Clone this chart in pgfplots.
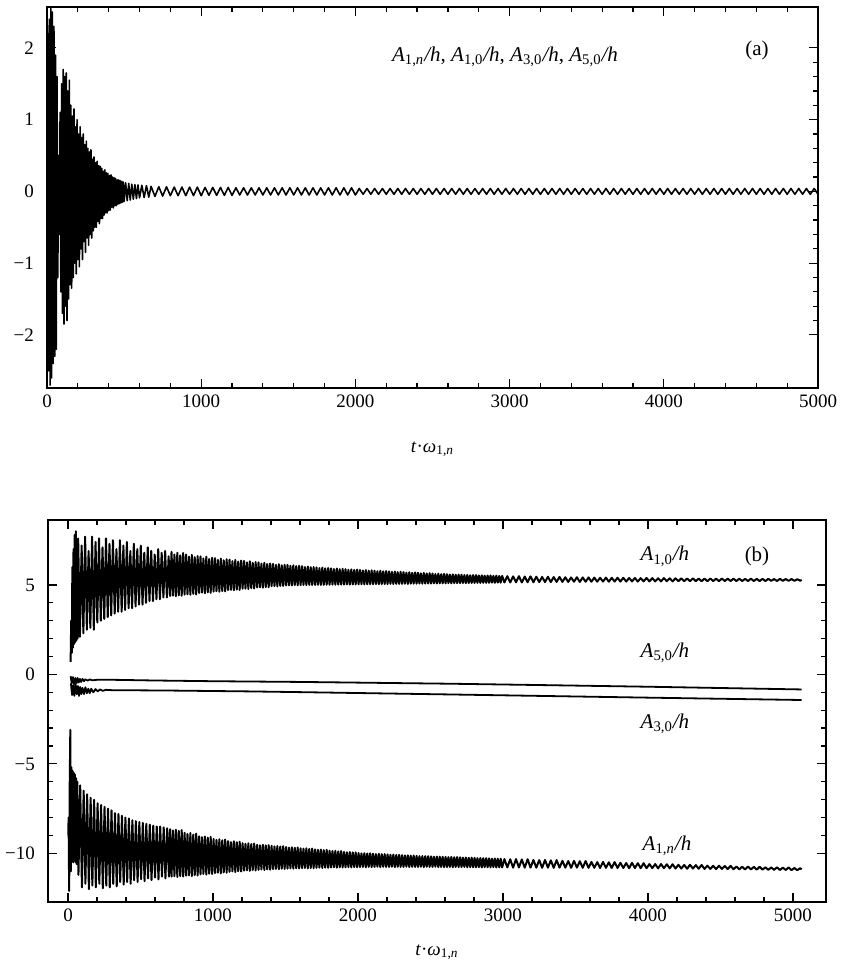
\documentclass[border=0pt]{standalone}
\usepackage{fontspec}
\setmainfont{Liberation Serif}
\usepackage{pgfplots}
\pgfplotsset{compat=1.18}
\newcommand{\Alab}[1]{\textit{A}\textsubscript{#1}\textit{/h}}
\newcommand{\xlab}{\textit{t}·\textit{ω}\textsubscript{1,\textit{n}}}
\pgfplotsset{
  myax/.style={
    scale only axis,
    anchor=north west,
    axis line style={line width=1pt},
    tick align=inside,
    major tick length=4.5pt,
    minor tick length=2.5pt,
    every tick/.style={black,line width=0.6pt},
    minor x tick num=4,
    minor y tick num=4,
    xtick={0,1000,2000,3000,4000,5000},
    xticklabels={0,1000,2000,3000,4000,5000},
    tick label style={font=\fontsize{9.5}{11}\selectfont},
    yticklabel style={xshift=-3pt},
    label style={font=\fontsize{9.5}{11}\selectfont},
    clip=true,
  }
}
\begin{document}
\begin{tikzpicture}
\path[use as bounding box] (0,0) rectangle (423pt,-483.5pt);
% ---------------- panel (a)
\begin{axis}[myax,
  at={(23.5pt,-3.5pt)}, width=385.5pt, height=190.5pt,
  xmin=0, xmax=5000, ymin=-2.74, ymax=2.57,
  ytick={-2,-1,0,1,2}, yticklabels={−2,−1,0,1,2},
  xlabel={\xlab},
  x label style={at={(axis description cs:0.5,0)},anchor=center,yshift=-30.5pt},
]
\addplot[black, line width=0.8pt, line join=round] coordinates {
(0,0.3)(5,2.2)(10,-2.5)(15,2.4)(20,-2.7)(25,2.55)(30,-2.6)(35,2.5)(40,-2.4)(45,2.3)
(50,-2.3)(55,1.9)(60,-2.2)(65,1.6)(70,-1.2)(75,0.5)(80,-0.6)(85,1.1)(90,-1.4)(95,1.5)
(100,-1.7)(105,1.7)(110,-1.85)(115,1.6)(120,-1.6)(125,1.65)(130,-1.8)(135,1.4)(140,-1.5)(145,1.55)
(150,-1.3)(155,1.2)(160,-1.35)(165,1.05)(170,-1.2)(175,1.15)(180,-1.0)(185,0.9)(190,-1.15)(195,1.0)
(200,-0.95)(205,0.8)(210,-1.05)(215,0.9)(220,-0.8)(225,0.75)(230,-0.95)(235,0.8)(240,-0.7)(245,0.65)
(250,-0.85)(255,0.7)(260,-0.65)(265,0.6)(270,-0.75)(275,0.55)(280,-0.6)(285,0.58)(290,-0.65)(295,0.45)
(300,-0.55)(305,0.48)(310,-0.5)(315,0.4)(320,-0.5)(325,0.42)(330,-0.42)(335,0.36)(340,-0.45)(345,0.35)
(350,-0.38)(355,0.32)(360,-0.38)(365,0.28)(370,-0.33)(375,0.3)(380,-0.3)(385,0.26)(390,-0.3)(395,0.25)
(400,-0.27)(405,0.22)(410,-0.26)(415,0.23)(420,-0.22)(425,0.2)(430,-0.23)(435,0.19)(440,-0.2)(445,0.18)
(450,-0.2)(455,0.16)(460,-0.18)(465,0.16)(470,-0.17)(475,0.15)(480,-0.16)(485,0.14)(490,-0.15)(495,0.13)
(500,-0.14)(510,0.12)(520,-0.13)(530,0.11)(540,-0.12)(550,0.1)(560,-0.11)(570,0.095)(580,-0.1)(590,0.09)
(600,-0.09)(615,0.085)(630,-0.085)(645,0.08)(660,-0.08)
(675,0.07)(700,-0.07)(725,0.065)(750,-0.065)(775,0.065)(800,-0.06)(825,0.06)(850,-0.06)(875,0.06)(900,-0.06)
(925,0.06)(950,-0.06)(975,0.06)(1000,-0.06)(1025,0.055)(1050,-0.055)(1075,0.055)(1100,-0.055)(1125,0.055)(1150,-0.055)
(1175,0.055)(1200,-0.055)(1225,0.05)(1250,-0.05)(1275,0.05)(1300,-0.05)(1325,0.05)(1350,-0.05)(1375,0.05)(1400,-0.05)
(1425,0.05)(1450,-0.05)(1475,0.05)(1500,-0.05)(1525,0.05)(1550,-0.05)(1575,0.05)(1600,-0.05)(1625,0.05)(1650,-0.05)
(1675,0.05)(1700,-0.05)(1725,0.05)(1750,-0.05)(1775,0.05)(1800,-0.05)(1825,0.05)(1850,-0.05)(1875,0.05)(1900,-0.05)
(1925,0.05)(1950,-0.05)(1975,0.05)(2000,-0.05)
(2025,0.04)(2050,-0.04)(2075,0.04)(2100,-0.04)(2125,0.04)(2150,-0.04)(2175,0.04)(2200,-0.04)
(2225,0.04)(2250,-0.04)(2275,0.04)(2300,-0.04)(2325,0.04)(2350,-0.04)(2375,0.04)(2400,-0.04)
(2425,0.04)(2450,-0.04)(2475,0.04)(2500,-0.04)(2525,0.04)(2550,-0.04)(2575,0.04)(2600,-0.04)
(2625,0.04)(2650,-0.04)(2675,0.04)(2700,-0.04)(2725,0.04)(2750,-0.04)(2775,0.04)(2800,-0.04)
(2825,0.04)(2850,-0.04)(2875,0.04)(2900,-0.04)(2925,0.04)(2950,-0.04)(2975,0.04)(3000,-0.04)
(3025,0.04)(3050,-0.04)(3075,0.04)(3100,-0.04)(3125,0.04)(3150,-0.04)(3175,0.04)(3200,-0.04)
(3225,0.04)(3250,-0.04)(3275,0.04)(3300,-0.04)(3325,0.04)(3350,-0.04)(3375,0.04)(3400,-0.04)
(3425,0.04)(3450,-0.04)(3475,0.04)(3500,-0.04)(3525,0.04)(3550,-0.04)(3575,0.04)(3600,-0.04)
(3625,0.04)(3650,-0.04)(3675,0.04)(3700,-0.04)(3725,0.04)(3750,-0.04)(3775,0.04)(3800,-0.04)
(3825,0.04)(3850,-0.04)(3875,0.04)(3900,-0.04)(3925,0.04)(3950,-0.04)(3975,0.04)(4000,-0.04)
(4025,0.04)(4050,-0.04)(4075,0.04)(4100,-0.04)(4125,0.04)(4150,-0.04)(4175,0.04)(4200,-0.04)
(4225,0.04)(4250,-0.04)(4275,0.04)(4300,-0.04)(4325,0.04)(4350,-0.04)(4375,0.04)(4400,-0.04)
(4425,0.04)(4450,-0.04)(4475,0.04)(4500,-0.04)(4525,0.04)(4550,-0.04)(4575,0.04)(4600,-0.04)
(4625,0.04)(4650,-0.04)(4675,0.04)(4700,-0.04)(4725,0.04)(4750,-0.04)(4775,0.04)(4800,-0.04)
(4825,0.04)(4850,-0.04)(4875,0.04)(4900,-0.04)(4925,0.04)(4950,-0.04)(4975,0.04)(5000,-0.04)
};
\node[font=\fontsize{10.5}{12}\selectfont] at (axis cs:2970,1.88) {\Alab{1,\textit{n}}, \Alab{1,0}, \Alab{3,0}, \Alab{5,0}};
\node[font=\fontsize{10.5}{12}\selectfont] at (axis cs:4604,1.97) {(a)};
\end{axis}
% ---------------- panel (b)
\begin{axis}[myax,
  at={(24pt,-260pt)}, width=389pt, height=191pt,
  xmin=-138, xmax=5228, ymin=-12.72, ymax=8.63,
  ytick={-10,-5,0,5}, yticklabels={−10,−5,0,5},
  xlabel={\xlab},
  x label style={at={(axis description cs:0.5,0)},anchor=center,yshift=-25pt},
]
% A_{1,0}/h
\addplot[black, line width=1.0pt, line join=round] coordinates {
(18,0.7)(22,3.0)(26,1.2)(30,6.0)(34,1.5)(38,7.0)(42,1.7)(46,7.8)(50,1.8)(54,8.0)(58,1.9)(62,7.4)(66,2.0)
(70,7.6)(82,2.1)(94,7.2)(106,2.3)(118,7.7)(130,2.5)(142,6.9)(154,2.6)(166,7.7)(178,2.5)
(190,7.4)(202,2.9)(214,7.6)(226,3.0)(238,7.1)(250,3.1)(262,7.6)(274,3.2)(286,7.3)(298,3.3)
(310,7.5)(322,3.4)(334,7.0)(346,3.5)(358,7.5)(370,3.5)(382,7.2)(394,3.6)(406,7.4)(418,3.7)
(430,6.9)(442,3.7)(454,7.3)(466,3.8)(478,7.0)(490,3.9)(502,7.2)(514,3.9)(526,6.8)(538,4.0)
(550,7.1)(562,4.1)(574,6.9)(586,4.1)(598,6.7)(610,4.2)(622,7.0)(634,4.2)(646,6.8)(658,4.3)
(670,6.9)(682,4.3)(694,6.6)
(704,4.38)(714,6.85)(724,4.4)(734,6.7)(744,4.37)(754,6.8)(764,4.42)(774,6.65)(784,4.4)(794,6.78)
(804,4.46)(814,6.7)(824,4.48)(834,6.58)(844,4.45)(854,6.68)(864,4.5)(874,6.55)(884,4.47)(894,6.62)
(904,4.55)(914,6.6)(924,4.57)(934,6.48)(944,4.54)(954,6.58)(964,4.59)(974,6.45)(984,4.56)(994,6.52)
(1004,4.63)(1014,6.5)(1024,4.65)(1034,6.4)(1044,4.62)(1054,6.47)(1064,4.66)(1074,6.38)(1084,4.64)(1094,6.44)
(1104,4.71)(1114,6.42)(1124,4.73)(1134,6.33)(1144,4.7)(1154,6.4)(1164,4.74)(1174,6.3)(1184,4.72)(1194,6.36)
(1204,4.79)(1214,6.34)(1224,4.8)(1234,6.26)(1244,4.78)(1254,6.32)(1264,4.82)(1274,6.24)(1284,4.8)(1294,6.28)
(1304,4.86)(1314,6.26)(1324,4.87)(1334,6.19)(1344,4.85)(1354,6.24)(1364,4.88)(1374,6.17)(1384,4.87)(1394,6.2)
(1404,4.93)(1414,6.18)(1424,4.94)(1434,6.12)(1444,4.92)(1454,6.16)(1464,4.95)(1474,6.1)(1484,4.94)(1494,6.13)
(1504,4.97)(1514,6.12)(1524,4.98)(1534,6.07)(1544,4.97)(1554,6.1)(1564,4.99)(1574,6.05)(1584,4.98)(1594,6.07)
(1604,4.99)(1614,6.05)(1624,5.0)(1634,6.0)(1644,4.99)(1654,6.03)(1664,5.0)(1674,5.99)(1684,5.0)(1694,6.0)
(1704,5.0)(1714,5.98)(1724,5.01)(1734,5.94)(1744,5.0)(1754,5.97)(1764,5.01)(1774,5.93)(1784,5.01)(1794,5.95)
(1804,5.01)(1814,5.93)(1824,5.02)(1834,5.89)(1844,5.01)(1854,5.92)(1864,5.02)(1874,5.88)(1884,5.02)(1894,5.9)
(1904,5.02)(1914,5.88)(1924,5.03)(1934,5.85)(1944,5.02)(1954,5.87)(1964,5.03)(1974,5.84)(1984,5.03)(1994,5.86)
(2004,5.03)(2014,5.84)(2024,5.04)(2034,5.81)(2044,5.03)(2054,5.83)(2064,5.04)(2074,5.8)(2084,5.04)(2094,5.82)
(2104,5.04)(2114,5.8)(2124,5.05)(2134,5.77)(2144,5.04)(2154,5.79)(2164,5.05)(2174,5.76)(2184,5.05)(2194,5.78)
(2204,5.05)(2214,5.76)(2224,5.06)(2234,5.73)(2244,5.05)(2254,5.75)(2264,5.06)(2274,5.72)(2284,5.06)(2294,5.74)
(2304,5.06)(2314,5.72)(2324,5.07)(2334,5.69)(2344,5.06)(2354,5.71)(2364,5.07)(2374,5.68)(2384,5.07)(2394,5.7)
(2404,5.07)(2414,5.68)(2424,5.08)(2434,5.65)(2444,5.07)(2454,5.67)(2464,5.08)(2474,5.64)(2484,5.08)(2494,5.66)
(2504,5.08)(2514,5.64)(2524,5.09)(2534,5.61)(2544,5.08)(2554,5.63)(2564,5.09)(2574,5.6)(2584,5.09)(2594,5.62)
(2604,5.09)(2614,5.6)(2624,5.1)(2634,5.58)(2644,5.09)(2654,5.59)(2664,5.1)(2674,5.57)(2684,5.1)(2694,5.58)
(2704,5.1)(2714,5.57)(2724,5.11)(2734,5.55)(2744,5.1)(2754,5.56)(2764,5.11)(2774,5.54)(2784,5.11)(2794,5.55)
(2804,5.11)(2814,5.55)(2824,5.12)(2834,5.53)(2844,5.11)(2854,5.54)(2864,5.12)(2874,5.52)(2884,5.12)(2894,5.53)
(2904,5.12)(2914,5.53)(2924,5.13)(2934,5.51)(2944,5.12)(2954,5.52)(2964,5.13)(2974,5.5)(2984,5.13)(2994,5.51)
(3010,5.14)(3030,5.49)(3050,5.14)(3070,5.48)(3090,5.15)(3110,5.49)(3130,5.14)(3150,5.47)(3170,5.15)(3190,5.48)
(3210,5.15)(3230,5.46)(3250,5.16)(3270,5.45)(3290,5.16)(3310,5.46)(3330,5.16)(3350,5.44)(3370,5.17)(3390,5.45)
(3410,5.17)(3430,5.43)(3450,5.17)(3470,5.42)(3490,5.18)(3510,5.43)(3530,5.17)(3550,5.42)(3570,5.18)(3590,5.42)
(3610,5.18)(3630,5.41)(3650,5.18)(3670,5.4)(3690,5.19)(3710,5.41)(3730,5.18)(3750,5.4)(3770,5.19)(3790,5.4)
(3810,5.19)(3830,5.4)(3850,5.19)(3870,5.39)(3890,5.2)(3910,5.39)(3930,5.19)(3950,5.38)(3970,5.2)(3990,5.39)
(4010,5.2)(4030,5.38)(4050,5.2)(4070,5.37)(4090,5.2)(4110,5.38)(4130,5.21)(4150,5.37)(4170,5.2)(4190,5.37)
(4210,5.21)(4230,5.37)(4250,5.21)(4270,5.36)(4290,5.21)(4310,5.37)(4330,5.21)(4350,5.36)(4370,5.21)(4390,5.36)
(4410,5.21)(4430,5.36)(4450,5.22)(4470,5.35)(4490,5.21)(4510,5.36)(4530,5.22)(4550,5.35)(4570,5.22)(4590,5.35)
(4610,5.22)(4630,5.35)(4650,5.22)(4670,5.34)(4690,5.22)(4710,5.35)(4730,5.22)(4750,5.34)(4770,5.22)(4790,5.34)
(4810,5.22)(4830,5.34)(4850,5.23)(4870,5.33)(4890,5.22)(4910,5.34)(4930,5.23)(4950,5.33)(4970,5.23)(4990,5.33)
(5010,5.23)(5030,5.32)(5050,5.24)(5060,5.28)
};
% A_{5,0}/h
\addplot[black, line width=0.9pt, line join=round] coordinates {
(18,-0.1)(26,-0.5)(34,-0.15)(42,-0.55)(50,-0.2)(58,-0.5)(66,-0.2)(74,-0.45)(82,-0.25)(90,-0.42)
(100,-0.25)(110,-0.38)(120,-0.27)(135,-0.35)(150,-0.28)(170,-0.33)(200,-0.3)(300,-0.3)(600,-0.34)
(1000,-0.38)(1600,-0.42)(2634,-0.52)(3300,-0.6)(4014,-0.69)(5060,-0.84)
};
% A_{3,0}/h
\addplot[black, line width=0.9pt, line join=round] coordinates {
(20,-0.5)(28,-1.15)(36,-0.6)(44,-1.2)(52,-0.55)(60,-1.1)(68,-0.65)(76,-1.2)(84,-0.7)(92,-1.1)
(100,-0.75)(110,-1.1)(120,-0.72)(130,-1.05)(140,-0.8)(150,-1.05)(160,-0.8)(175,-1.0)(190,-0.82)(205,-0.95)
(220,-0.84)(240,-0.92)(260,-0.86)(300,-0.88)(680,-0.9)(1255,-0.95)(1600,-0.99)(2634,-1.12)(4014,-1.3)(5060,-1.43)
};
% A_{1,n}/h
\addplot[black, line width=1.0pt, line join=round] coordinates {
(2,-9.0)(4,-8.0)(8,-12.1)(12,-6.0)(16,-3.1)(20,-11.0)(24,-5.2)(28,-10.4)(32,-5.4)(36,-10.5)(40,-5.5)
(44,-10.4)(48,-5.6)(52,-10.5)(56,-5.8)(60,-10.6)(64,-6.0)
(72,-11.2)(84,-6.2)(96,-11.9)(108,-6.5)(120,-11.7)(132,-6.7)(144,-12.0)(156,-6.9)(168,-11.8)(180,-7.0)
(192,-11.9)(204,-7.2)(216,-11.7)(228,-7.3)(240,-11.95)(252,-7.4)(264,-11.8)(276,-7.5)(288,-11.9)(300,-7.6)
(312,-11.7)(324,-7.75)(336,-11.85)(348,-7.8)(360,-11.6)(372,-7.9)(384,-11.75)(396,-8.0)(408,-11.6)(420,-8.05)
(432,-11.7)(444,-8.15)(456,-11.5)(468,-8.2)(480,-11.6)(492,-8.25)(504,-11.45)(516,-8.3)(528,-11.55)(540,-8.35)
(552,-11.4)(564,-8.4)(576,-11.5)(588,-8.45)(600,-11.35)(612,-8.5)(624,-11.45)(636,-8.5)(648,-11.3)(660,-8.55)
(672,-11.4)(684,-8.6)(696,-11.3)
(704,-8.65)(714,-11.3)(724,-8.72)(734,-11.28)(744,-8.68)(754,-11.32)(764,-8.75)(774,-11.27)(784,-8.7)(794,-11.3)
(804,-8.85)(814,-11.25)(824,-8.92)(834,-11.23)(844,-8.87)(854,-11.27)(864,-8.95)(874,-11.22)(884,-8.9)(894,-11.24)
(904,-9.05)(914,-11.17)(924,-9.1)(934,-11.15)(944,-9.06)(954,-11.19)(964,-9.12)(974,-11.14)(984,-9.08)(994,-11.16)
(1004,-9.2)(1014,-11.1)(1024,-9.25)(1034,-11.08)(1044,-9.21)(1054,-11.12)(1064,-9.27)(1074,-11.07)(1084,-9.23)(1094,-11.09)
(1104,-9.32)(1114,-11.03)(1124,-9.37)(1134,-11.01)(1144,-9.33)(1154,-11.05)(1164,-9.38)(1174,-11.0)(1184,-9.35)(1194,-11.02)
(1204,-9.43)(1214,-10.97)(1224,-9.47)(1234,-10.95)(1244,-9.44)(1254,-10.98)(1264,-9.48)(1274,-10.94)(1284,-9.45)(1294,-10.96)
(1304,-9.52)(1314,-10.92)(1324,-9.55)(1334,-10.9)(1344,-9.52)(1354,-10.93)(1364,-9.56)(1374,-10.9)(1384,-9.54)(1394,-10.91)
(1404,-9.58)(1414,-10.88)(1424,-9.61)(1434,-10.87)(1444,-9.59)(1454,-10.89)(1464,-9.62)(1474,-10.86)(1484,-9.6)(1494,-10.88)
(1504,-9.65)(1514,-10.85)(1524,-9.68)(1534,-10.84)(1544,-9.66)(1554,-10.86)(1564,-9.69)(1574,-10.84)(1584,-9.67)(1594,-10.85)
(1604,-9.72)(1614,-10.83)(1624,-9.74)(1634,-10.82)(1644,-9.72)(1654,-10.84)(1664,-9.75)(1674,-10.82)(1684,-9.73)(1694,-10.83)
(1704,-9.78)(1714,-10.81)(1724,-9.8)(1734,-10.8)(1744,-9.79)(1754,-10.82)(1764,-9.82)(1774,-10.8)(1784,-9.8)(1794,-10.81)
(1804,-9.85)(1814,-10.79)(1824,-9.87)(1834,-10.78)(1844,-9.86)(1854,-10.8)(1864,-9.89)(1874,-10.78)(1884,-9.87)(1894,-10.79)
(1904,-9.92)(1914,-10.78)(1924,-9.94)(1934,-10.77)(1944,-9.93)(1954,-10.79)(1964,-9.95)(1974,-10.77)(1984,-9.94)(1994,-10.78)
(2004,-9.98)(2014,-10.77)(2024,-10.0)(2034,-10.76)(2044,-9.99)(2054,-10.78)(2064,-10.01)(2074,-10.76)(2084,-10.0)(2094,-10.77)
(2104,-10.02)(2114,-10.76)(2124,-10.04)(2134,-10.75)(2144,-10.03)(2154,-10.77)(2164,-10.05)(2174,-10.75)(2184,-10.04)(2194,-10.76)
(2204,-10.06)(2214,-10.76)(2224,-10.08)(2234,-10.75)(2244,-10.07)(2254,-10.77)(2264,-10.09)(2274,-10.75)(2284,-10.08)(2294,-10.76)
(2304,-10.1)(2314,-10.76)(2324,-10.12)(2334,-10.75)(2344,-10.11)(2354,-10.77)(2364,-10.13)(2374,-10.75)(2384,-10.12)(2394,-10.76)
(2404,-10.14)(2414,-10.76)(2424,-10.16)(2434,-10.75)(2444,-10.15)(2454,-10.77)(2464,-10.16)(2474,-10.75)(2484,-10.16)(2494,-10.76)
(2504,-10.17)(2514,-10.76)(2524,-10.19)(2534,-10.75)(2544,-10.18)(2554,-10.77)(2564,-10.19)(2574,-10.76)(2584,-10.19)(2594,-10.77)
(2604,-10.2)(2614,-10.77)(2624,-10.21)(2634,-10.76)(2644,-10.2)(2654,-10.78)(2664,-10.22)(2674,-10.76)(2684,-10.21)(2694,-10.77)
(2704,-10.22)(2714,-10.77)(2724,-10.24)(2734,-10.76)(2744,-10.23)(2754,-10.78)(2764,-10.25)(2774,-10.77)(2784,-10.24)(2794,-10.78)
(2804,-10.25)(2814,-10.78)(2824,-10.27)(2834,-10.77)(2844,-10.26)(2854,-10.79)(2864,-10.27)(2874,-10.77)(2884,-10.27)(2894,-10.78)
(2904,-10.28)(2914,-10.78)(2924,-10.3)(2934,-10.77)(2944,-10.29)(2954,-10.79)(2964,-10.3)(2974,-10.78)(2984,-10.3)(2994,-10.79)
(3010,-10.32)(3030,-10.79)(3050,-10.33)(3070,-10.8)(3090,-10.32)(3110,-10.79)(3130,-10.34)(3150,-10.8)(3170,-10.33)(3190,-10.8)
(3210,-10.37)(3230,-10.8)(3250,-10.38)(3270,-10.81)(3290,-10.37)(3310,-10.8)(3330,-10.39)(3350,-10.81)(3370,-10.38)(3390,-10.8)
(3410,-10.42)(3430,-10.8)(3450,-10.43)(3470,-10.81)(3490,-10.42)(3510,-10.8)(3530,-10.44)(3550,-10.81)(3570,-10.43)(3590,-10.81)
(3610,-10.48)(3630,-10.81)(3650,-10.49)(3670,-10.82)(3690,-10.48)(3710,-10.81)(3730,-10.5)(3750,-10.82)(3770,-10.49)(3790,-10.82)
(3810,-10.53)(3830,-10.82)(3850,-10.54)(3870,-10.83)(3890,-10.53)(3910,-10.82)(3930,-10.55)(3950,-10.83)(3970,-10.55)(3990,-10.83)
(4010,-10.6)(4030,-10.83)(4050,-10.6)(4070,-10.84)(4090,-10.6)(4110,-10.83)(4130,-10.61)(4150,-10.84)(4170,-10.61)(4190,-10.85)
(4210,-10.64)(4230,-10.85)(4250,-10.65)(4270,-10.86)(4290,-10.64)(4310,-10.85)(4330,-10.66)(4350,-10.86)(4370,-10.65)(4390,-10.87)
(4410,-10.69)(4430,-10.87)(4450,-10.7)(4470,-10.88)(4490,-10.69)(4510,-10.87)(4530,-10.71)(4550,-10.88)(4570,-10.7)(4590,-10.89)
(4610,-10.74)(4630,-10.89)(4650,-10.75)(4670,-10.9)(4690,-10.74)(4710,-10.9)(4730,-10.76)(4750,-10.91)(4770,-10.75)(4790,-10.91)
(4810,-10.78)(4830,-10.92)(4850,-10.79)(4870,-10.92)(4890,-10.78)(4910,-10.93)(4930,-10.8)(4950,-10.93)(4970,-10.79)(4990,-10.94)
(5010,-10.82)(5030,-10.94)(5050,-10.83)(5060,-10.9)
};
\node[font=\fontsize{10.5}{12}\selectfont] at (axis cs:4117,6.6) {\Alab{1,0}};
\node[font=\fontsize{10.5}{12}\selectfont] at (axis cs:4752,6.6) {(b)};
\node[font=\fontsize{10.5}{12}\selectfont] at (axis cs:4117,1.19) {\Alab{5,0}};
\node[font=\fontsize{10.5}{12}\selectfont] at (axis cs:4117,-2.77) {\Alab{3,0}};
\node[font=\fontsize{10.5}{12}\selectfont] at (axis cs:4131,-9.58) {\Alab{1,\textit{n}}};
\end{axis}
\end{tikzpicture}
\end{document}
